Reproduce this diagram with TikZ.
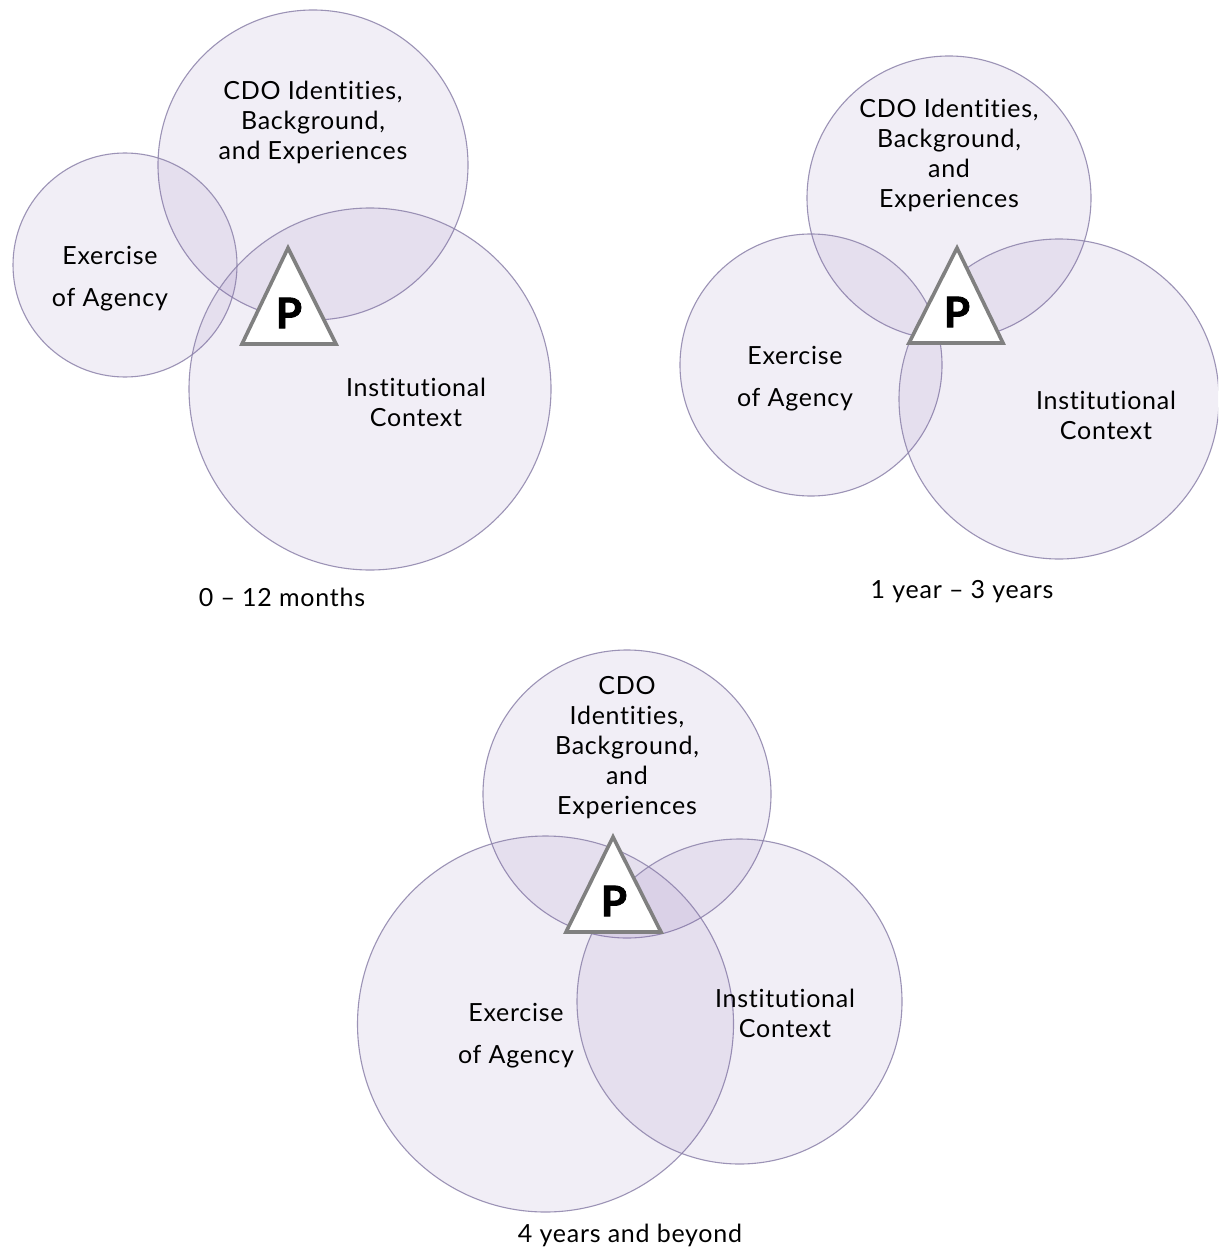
\documentclass[tikz,border=0pt]{standalone}
\usepackage{fontspec}
\setmainfont{Lato}[LetterSpace=3, Ligatures={NoCommon}]
\newfontfamily\pfont{Lato Bold}[FakeBold=2]
\begin{document}
\begin{tikzpicture}[x=1pt,y=-1pt,
  zone/.style={circle, inner sep=0pt, minimum size=#1,
    draw=ringline, line width=1.1pt,
    fill=ringfill, fill opacity=0.1, draw opacity=0.85},
  caption/.style={align=center, inner sep=0pt,
    font=\fontsize{25}{30}\selectfont},
  agency/.style={align=center, inner sep=0pt,
    font=\fontsize{25}{42}\selectfont},
  stage/.style={inner sep=0pt, font=\fontsize{25}{28}\selectfont},
  pbox/.style={draw=pgray, line width=3.6pt, fill=white, line join=miter},
  pmark/.style={inner sep=0pt, font=\fontsize{42}{42}\pfont}
]
\definecolor{ringline}{RGB}{140,130,170}
\definecolor{ringfill}{RGB}{125,95,170}
\definecolor{pgray}{RGB}{128,128,128}

% canvas
\path[fill=white, use as bounding box] (0,0) rectangle (1218,1249);
\clip (0,0) rectangle (1218,1249);

% ---------- stage 1: 0 - 12 months ----------
\node[zone=310pt] (cdoA) at (313,165) {};
\node[zone=224pt] (ageA) at (125,265) {};
\node[zone=362pt] (insA) at (370,389) {};
\coordinate (tA1) at (288,248);
\coordinate (tA2) at (242,344);
\coordinate (tA3) at (336,344);
\draw[pbox] (tA1) -- (tA2) -- (tA3) -- cycle;
\node[pmark] (pA) at (289,313) {P};
\node[caption] (cdoAt) at (313,122) {CDO Identities,\\Background,\\and Experiences};
\node[agency] (ageAt) at (110,279) {Exercise\\of Agency};
\node[caption] (insAt) at (416,402) {Institutional\\Context};
\node[stage] (stA) at (282,597) {0 -- 12 months};

% ---------- stage 2: 1 year - 3 years ----------
\node[zone=284pt] (cdoB) at (949,198) {};
\node[zone=262pt] (ageB) at (811,365) {};
\node[zone=320pt] (insB) at (1059,399) {};
\coordinate (tB1) at (957,248);
\coordinate (tB2) at (909,343);
\coordinate (tB3) at (1003,343);
\draw[pbox] (tB1) -- (tB2) -- (tB3) -- cycle;
\node[pmark] (pB) at (957,312) {P};
\node[caption] (cdoBt) at (949,155) {CDO Identities,\\Background,\\and\\Experiences};
\node[agency] (ageBt) at (795,379) {Exercise\\of Agency};
\node[caption] (insBt) at (1106,415) {Institutional\\Context};
\node[stage] (stB) at (962,592) {1 year -- 3 years};

% ---------- stage 3: 4 years and beyond ----------
\node[zone=288pt] (cdoC) at (627,794) {};
\node[zone=376pt] (ageC) at (545.5,1024) {};
\node[zone=325pt] (insC) at (739.5,1001.5) {};
\coordinate (tC1) at (613,837);
\coordinate (tC2) at (566,932);
\coordinate (tC3) at (661,932);
\draw[pbox] (tC1) -- (tC2) -- (tC3) -- cycle;
\node[pmark] (pC) at (614,901) {P};
\node[caption] (cdoCt) at (627,748) {CDO\\Identities,\\Background,\\and\\Experiences};
\node[agency] (ageCt) at (516,1035.5) {Exercise\\of Agency};
\node[caption] (insCt) at (785,1013) {Institutional\\Context};
\node[stage] (stC) at (630,1235) {4 years and beyond};
\end{tikzpicture}
\end{document}
